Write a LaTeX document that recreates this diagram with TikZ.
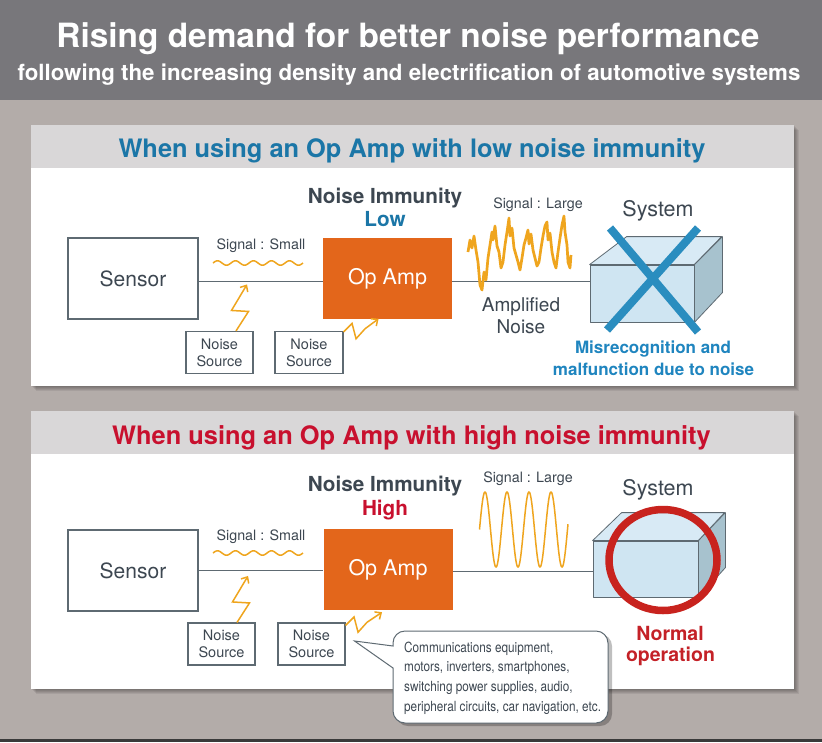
\documentclass[tikz,border=0pt]{standalone}
\usepackage{fontspec}
\setmainfont{TeX Gyre Heros}
\newfontfamily\narrowfont[FakeStretch=0.84]{TeX Gyre Heros}
\usetikzlibrary{arrows.meta}
\definecolor{pagebg}{HTML}{B3ACA9}
\definecolor{headbg}{HTML}{78777B}
\definecolor{bandbg}{HTML}{D9D7D8}
\definecolor{tblue}{HTML}{1B76A7}
\definecolor{tred}{HTML}{C8102E}
\definecolor{txt}{HTML}{3D4751}
\definecolor{edge}{HTML}{5E6A72}
\definecolor{opampc}{HTML}{E3661B}
\definecolor{wavec}{HTML}{EFA51E}
\definecolor{facec}{HTML}{CFE5F2}
\definecolor{topc}{HTML}{D8EAF5}
\definecolor{sidec}{HTML}{A7C2CE}
\definecolor{xblue}{HTML}{2A8DBF}
\definecolor{ringc}{HTML}{C8231E}
\definecolor{mblue}{HTML}{1F85BF}
\definecolor{nred}{HTML}{C42127}
\definecolor{stripc}{HTML}{3A3A3A}
\newcommand\setfs[2]{\fontsize{#1}{#2}\selectfont}
\tikzset{
  lbl/.style={anchor=base, text=txt, inner sep=0pt},
  srcbox/.style={draw=edge, line width=1.1pt, fill=white, inner sep=0pt, text=txt},
  ampbox/.style={fill=opampc, inner sep=0pt, text=white},
  bolt/.style={draw=wavec, line width=1.5pt, -{Straight Barb[length=5pt,width=9pt]}, line join=miter},
  sigline/.style={draw=edge, line width=0.9pt},
  wavy/.style={draw=wavec, line width=1.5pt},
  cubeedge/.style={draw=edge, line width=0.8pt, line join=round},
  frontface/.style={cubeedge, fill=facec, inner sep=0pt},
  xband/.style={draw=xblue, line width=8pt},
  ringline/.style={draw=ringc, line width=7.5pt},
  panelshadow/.style={fill=black, opacity=0.07},
}
\begin{document}
\begin{tikzpicture}[x=1pt,y=-1pt]
\useasboundingbox (0,0) rectangle (822,742);
\fill[pagebg] (0,0) rectangle (822,742);
\fill[headbg] (0,0) rectangle (822,100);
\fill[stripc] (0,739) rectangle (822,742);

% header
\node[lbl, text=white, font=\bfseries\setfs{33.4}{38}] (title) at (408,47) {Rising demand for better noise performance};
\node[lbl, text=white, font=\bfseries\setfs{22.3}{26}] (subtitle) at (409,80) {following the increasing density and electrification of automotive systems};

% ---------------- panel 1 ----------------
\foreach \i in {1,...,5} \fill[panelshadow] (31+\i,125+\i) rectangle (794+\i,386+\i);
\fill[white] (31,125) rectangle (794,386);
\fill[bandbg] (31,125) rectangle (794,168);
\node[lbl, text=tblue, font=\bfseries\setfs{25.4}{30}] (p1title) at (412,157) {When using an Op Amp with low noise immunity};

\node[srcbox, minimum width=130pt, minimum height=81pt, font=\setfs{21}{24}] (sensor1) at (133,278.5) {Sensor};
\node[ampbox, minimum width=129pt, minimum height=81pt, font=\setfs{21.5}{24}] (amp1) at (387.5,278.5) {Op Amp};
\node[srcbox, minimum width=67pt, minimum height=42pt, align=center, font=\setfs{14.5}{17}] (ns11) at (219.5,352.5) {Noise\\Source};
\node[srcbox, minimum width=68pt, minimum height=42pt, align=center, font=\setfs{14.5}{17}] (ns12) at (309,352.5) {Noise\\Source};

\node[lbl, font=\bfseries\setfs{20.7}{24}] (ni1) at (385,203) {Noise Immunity};
\node[lbl, text=tblue, font=\bfseries\setfs{20.7}{24}] (low) at (385,226) {Low};
\node[lbl, font=\setfs{14.3}{17}] (ss1) at (261,249) {Signal : Small};
\draw[wavy] plot[domain=213:303, samples=120, smooth] (\x,{263-2.2*sin(20*(\x-213))});

\node[frontface, minimum width=104pt, minimum height=57pt] (sys1) at (642,293.5) {};
\draw[cubeedge, fill=topc] (sys1.north west) -- ++(37,-28) -- ++(95,0) -- (sys1.north east) -- cycle;
\draw[cubeedge, fill=sidec] (sys1.north east) -- ++(28,-28) -- ++(0,56) -- (sys1.south east) -- cycle;
\node[lbl, font=\setfs{21.5}{24}] (sl1) at (658,216) {System};

\coordinate (j1) at ([yshift=-2.5pt]sensor1.east);
\draw[sigline] (j1) -- (j1 -| amp1.west);
\coordinate (j2) at ([yshift=-2.5pt]amp1.east);
\draw[sigline] (j2) -- (j2 -| sys1.west);

\node[lbl, font=\setfs{14.3}{17}] (sl1b) at (538,208) {Signal : Large};
\draw[wavec, line width=2.7pt, line join=round] plot coordinates {(468,252) (470,240) (472,248) (474,236) (476,250) (478,262) (480,285) (482,290) (484,272) (486,280) (488,258) (490,245) (492,232) (493,240) (495,226) (497,246) (499,252) (501,268) (503,262) (505,245) (507,232) (509,218) (510,236) (512,228) (514,248) (516,255) (518,262) (520,270) (522,258) (524,245) (526,238) (528,230) (529,244) (531,234) (533,250) (535,258) (537,266) (539,262) (541,248) (543,236) (545,226) (547,222) (548,240) (550,233) (552,252) (554,262) (556,268) (558,252) (560,238) (562,225) (564,216) (565,232) (567,245) (568,262) (570,268) (571,255)};
\node[lbl, font=\setfs{19}{22}] (an1) at (521,311) {Amplified};
\node[lbl, font=\setfs{19}{22}] (an2) at (521,333) {Noise};

\draw[bolt] ([xshift=16.5pt]ns11.north) -- ++(12.5,-19.5) -- ++(-17,-1) -- ++(15.5,-26);
\draw[bolt] ([yshift=-1pt]ns12.north east) -- ++(8.5,-8.5) -- ++(4,15.3) -- ++(9,-10) -- ++(13.5,-10);

\draw[xband] (610,228) -- (698,332);
\draw[xband] (698,228) -- (607,330);
\node[lbl, text=mblue, font=\bfseries\setfs{17}{20}] (mis1) at (653,353) {Misrecognition and};
\node[lbl, text=mblue, font=\bfseries\setfs{17}{20}] (mis2) at (653.5,375) {malfunction due to noise};

% ---------------- panel 2 ----------------
\foreach \i in {1,...,5} \fill[panelshadow] (31+\i,411+\i) rectangle (794+\i,689+\i);
\fill[white] (31,411) rectangle (794,689);
\fill[bandbg] (31,411) rectangle (794,454);
\node[lbl, text=tred, font=\bfseries\setfs{25.4}{30}] (p2title) at (411.5,444) {When using an Op Amp with high noise immunity};

\node[srcbox, minimum width=130pt, minimum height=81pt, font=\setfs{21}{24}] (sensor2) at (133,570.5) {Sensor};
\node[ampbox, minimum width=129pt, minimum height=81pt, font=\setfs{21.5}{24}] (amp2) at (388,569.5) {Op Amp};
\node[srcbox, minimum width=67pt, minimum height=42pt, align=center, font=\setfs{14.5}{17}] (ns21) at (221.5,644) {Noise\\Source};
\node[srcbox, minimum width=67pt, minimum height=42pt, align=center, font=\setfs{14.5}{17}] (ns22) at (311.5,644) {Noise\\Source};

\node[lbl, font=\bfseries\setfs{20.7}{24}] (ni2) at (385,491) {Noise Immunity};
\node[lbl, text=tred, font=\bfseries\setfs{20.7}{24}] (high) at (385,515) {High};
\node[lbl, font=\setfs{14.3}{17}] (ss2) at (261,540) {Signal : Small};
\draw[wavy] plot[domain=213:303, samples=120, smooth] (\x,{553-2.2*sin(20*(\x-213))});

\node[frontface, minimum width=105pt, minimum height=56pt] (sys2) at (645.5,569) {};
\draw[cubeedge, fill=topc] (sys2.north west) -- ++(29,-28) -- ++(103,0) -- (sys2.north east) -- cycle;
\draw[cubeedge, fill=sidec] (sys2.north east) -- ++(27,-28) -- ++(0,55) -- (sys2.south east) -- cycle;
\node[lbl, font=\setfs{21.5}{24}] (sl2) at (658,495) {System};

\coordinate (j3) at (sensor2.east);
\draw[sigline] (j3) -- (j3 -| amp2.west);
\coordinate (j4) at ([yshift=-1.5pt]amp2.east);
\draw[sigline] (j4) -- (j4 -| sys2.west);

\node[lbl, font=\setfs{14.3}{17}] (sl2b) at (528,482) {Signal : Large};
\draw[wavy] plot[domain=479.5:568, samples=300, smooth] (\x,{529.5-37.5*sin(16.3636*(\x-479.5))});

\draw[bolt] ([xshift=15.5pt]ns21.north) -- ++(12.5,-19.5) -- ++(-17,-1) -- ++(15.5,-26);
\draw[bolt] ([yshift=-3pt]ns22.north east) -- ++(8.5,-8.5) -- ++(4,15.3) -- ++(9,-10) -- ++(15,-10);

\draw[ringline] (663,560) ellipse [x radius=54, y radius=50.5];
\node[lbl, text=nred, font=\bfseries\setfs{19.5}{23}] (no1) at (670,640) {Normal};
\node[lbl, text=nred, font=\bfseries\setfs{19.5}{23}] (no2) at (670.5,661) {operation};

% callout
\coordinate (tip) at ([xshift=9pt,yshift=3pt]ns22.east);
\fill[black, opacity=0.25, rounded corners=12pt] (396,634) rectangle (612,726);
\draw[draw=edge, line width=1pt, fill=white] (tip) -- (393,668) [rounded corners=12pt] -- (393,723) -- (608,723) -- (608,631) -- (393,631) [sharp corners] -- (393,646) -- cycle;
\node[anchor=north west, align=left, inner sep=0pt, text=txt, font=\narrowfont\setfs{14}{19.7}] (calltext) at (404,641.5) {Communications equipment,\\motors, inverters, smartphones,\\switching power supplies, audio,\\peripheral circuits, car navigation, etc.};
\end{tikzpicture}
\end{document}
